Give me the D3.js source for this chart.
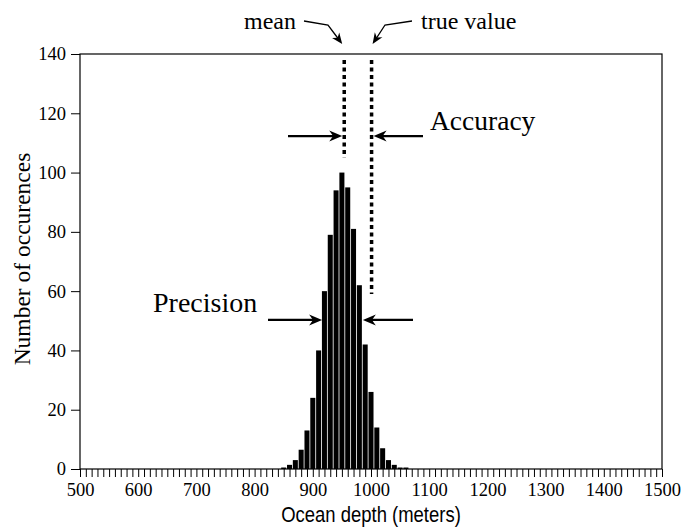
<!DOCTYPE html>
<html><head><meta charset="utf-8">
<script src="https://cdn.jsdelivr.net/npm/d3@7"></script>
<style>body{margin:0;background:#fff}svg{display:block}</style>
</head><body>
<svg id="c" width="685" height="529"></svg>
<script>
// data
const binCenters = [850,860,870,880,890,900,910,920,930,940,950,960,970,980,990,1000,1010,1020,1030,1040,1050,1060];
const counts     = [0.5,1.4,3,6.5,13,24,40,60,79,94,100,95,81,62,42,26,14,7,3,1.4,0.5,0.5];
const binWidth = 10;
const xTickLabels = [500,600,700,800,900,1000,1100,1200,1300,1400,1500];
const yTickLabels = [0,20,40,60,80,100,120,140];
const meanValue = 954;
const trueValue = 1001;
const meanLineTop = 138, meanLineBottom = 105;
const trueLineTop = 138, trueLineBottom = 59;
const accuracyLevel = 112.3;
const precisionLevel = 50.3;
const precisionLeft = 916, precisionRight = 986;

const svg = d3.select('#c');
const L = 80, R = 662, T = 54, B = 469;
const x = d3.scaleLinear().domain([500,1500]).range([L,R]);
const y = d3.scaleLinear().domain([0,140]).range([B,T]);
const serif = '"Liberation Serif","Times New Roman",serif';
const sans = '"Liberation Sans",Arial,sans-serif';

// bars
svg.append('g').selectAll('rect').data(binCenters).join('rect')
  .attr('x',(d)=>x(d-binWidth/2)+0.4)
  .attr('width',(d)=>x(d+binWidth/2)-x(d-binWidth/2)-0.8)
  .attr('y',(d,i)=>y(counts[i]))
  .attr('height',(d,i)=>y(0)-y(counts[i]))
  .attr('fill','#000');

// frame
svg.append('rect').attr('x',L).attr('y',T).attr('width',R-L).attr('height',B-T)
  .attr('fill','none').attr('stroke','#000').attr('stroke-width',1.2);

// x axis
const xAxis = d3.axisBottom(x).tickValues(d3.range(500,1501,10)).tickSize(8)
  .tickFormat(d=> xTickLabels.includes(d)? d : '');
const gx = svg.append('g').attr('transform',`translate(0,${B})`).call(xAxis);
gx.select('.domain').remove();
gx.selectAll('line').attr('stroke','#000').attr('stroke-width',1);
gx.selectAll('text').attr('font-family',serif).attr('font-size',18.5).attr('fill','#000').attr('dy','0.71em').attr('y',14);

// y axis
const yAxis = d3.axisLeft(y).tickValues(yTickLabels).tickSize(9).tickPadding(5);
const gy = svg.append('g').attr('transform',`translate(${L},0)`).call(yAxis);
gy.select('.domain').remove();
gy.selectAll('line').attr('stroke','#000').attr('stroke-width',1);
gy.selectAll('text').attr('font-family',serif).attr('font-size',18.5).attr('fill','#000');

// titles
svg.append('text').attr('transform',`translate(${(L+R)/2},522) scale(0.84,1)`).attr('text-anchor','middle')
  .attr('font-family',sans).attr('font-size',22).text('Ocean depth (meters)');
svg.append('text').attr('transform','translate(30,259) rotate(-90)').attr('text-anchor','middle')
  .attr('font-family',serif).attr('font-size',23.5).text('Number of occurences');

// dotted lines
svg.append('line').attr('x1',x(meanValue)).attr('x2',x(meanValue)).attr('y1',y(meanLineTop)).attr('y2',y(meanLineBottom))
  .attr('stroke','#000').attr('stroke-width',3.5).attr('stroke-dasharray','4,3.5');
svg.append('line').attr('x1',x(trueValue)).attr('x2',x(trueValue)).attr('y1',y(trueLineTop)).attr('y2',y(trueLineBottom))
  .attr('stroke','#000').attr('stroke-width',3.5).attr('stroke-dasharray','4,3.5');

// arrowhead helper
function head(tx,ty,ang,len=13,wid=5.5){
  const c=Math.cos(ang), s=Math.sin(ang);
  const p=(a,b)=>[tx - a*c + b*s, ty - a*s - b*c];
  const pts=[[0,0],[len,wid],[len*0.7,0],[len,-wid]].map(([a,b])=>p(a,b));
  svg.append('path').attr('d','M'+pts.map(q=>q.join(',')).join('L')+'Z').attr('fill','#000');
}
function hArrow(xFrom,xTo,yy){
  svg.append('line').attr('x1',xFrom).attr('x2',xTo + (xTo>xFrom?-6:6)).attr('y1',yy).attr('y2',yy)
    .attr('stroke','#000').attr('stroke-width',2.2);
  head(xTo,yy, xTo>xFrom?0:Math.PI);
}
// accuracy
const ay = y(accuracyLevel);
hArrow(288, x(meanValue)-2, ay);
hArrow(423, x(trueValue)+2, ay);
svg.append('text').attr('x',430).attr('y',130).attr('font-family',serif).attr('font-size',27.5).text('Accuracy');
// precision
const py = y(precisionLevel);
hArrow(268, x(precisionLeft), py);
hArrow(413, x(precisionRight), py);
svg.append('text').attr('x',153).attr('y',312).attr('font-family',serif).attr('font-size',28).text('Precision');

// mean / true value pointers
function pointer(pts){
  const tip=pts[pts.length-1], prev=pts[pts.length-2];
  const ang=Math.atan2(tip[1]-prev[1],tip[0]-prev[0]);
  const c=Math.cos(ang), s=Math.sin(ang);
  const pp=[...pts.slice(0,-1),[tip[0]-5*c,tip[1]-5*s]];
  svg.append('path').attr('d',d3.line()(pp)).attr('fill','none').attr('stroke','#000').attr('stroke-width',1.3);
  head(tip[0],tip[1],ang,11,4.5);
}
pointer([[304,21],[328,25],[x(meanValue)-2,44]]);
pointer([[412,21],[385,25],[x(trueValue)+1,44]]);
svg.append('text').attr('x',296).attr('y',29).attr('text-anchor','end').attr('font-family',serif).attr('font-size',24).text('mean');
svg.append('text').attr('x',421).attr('y',29).attr('font-family',serif).attr('font-size',24).text('true value');
</script>
</body></html>
